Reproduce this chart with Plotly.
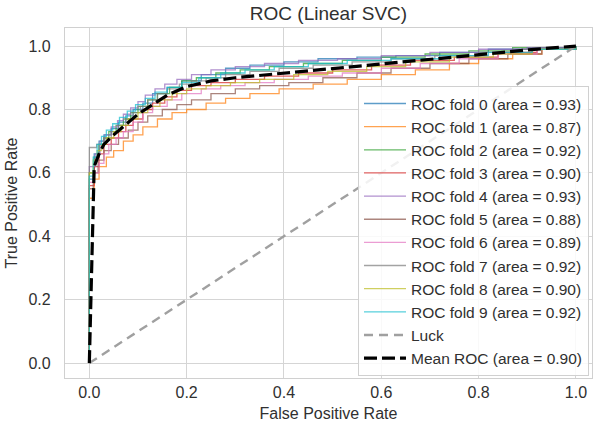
import plotly.graph_objects as go

# ---- data ----
fold_names = [f"ROC fold {i}" for i in range(10)]
fold_auc = [0.93, 0.87, 0.92, 0.90, 0.93, 0.88, 0.89, 0.92, 0.90, 0.92]

fpr_0 = [0, 0, 0.01, 0.02, 0.03, 0.045, 0.06, 0.075, 0.09, 0.11, 0.13, 0.16, 0.19, 0.23, 0.28, 0.33, 0.40, 0.47, 0.55, 0.63, 0.72, 0.82, 0.90, 1.0]
tpr_0 = [0, 0.58, 0.66, 0.70, 0.72, 0.74, 0.76, 0.78, 0.80, 0.82, 0.85, 0.87, 0.89, 0.91, 0.93, 0.94, 0.95, 0.96, 0.965, 0.97, 0.98, 0.99, 0.995, 1.0]

fpr_1 = [0, 0, 0.01, 0.02, 0.035, 0.05, 0.07, 0.09, 0.11, 0.14, 0.17, 0.20, 0.24, 0.28, 0.33, 0.39, 0.46, 0.53, 0.60, 0.67, 0.74, 0.80, 0.87, 0.93, 1.0]
tpr_1 = [0, 0.52, 0.58, 0.62, 0.65, 0.67, 0.70, 0.72, 0.745, 0.77, 0.79, 0.80, 0.82, 0.835, 0.85, 0.865, 0.88, 0.895, 0.91, 0.925, 0.945, 0.96, 0.975, 0.99, 1.0]

fpr_2 = [0, 0, 0.01, 0.02, 0.03, 0.04, 0.055, 0.07, 0.085, 0.10, 0.12, 0.14, 0.165, 0.19, 0.22, 0.26, 0.31, 0.37, 0.44, 0.52, 0.60, 0.69, 0.78, 0.87, 1.0]
tpr_2 = [0, 0.60, 0.65, 0.69, 0.71, 0.73, 0.75, 0.77, 0.79, 0.81, 0.83, 0.85, 0.87, 0.89, 0.90, 0.915, 0.925, 0.935, 0.945, 0.955, 0.965, 0.975, 0.985, 0.995, 1.0]

fpr_3 = [0, 0, 0.01, 0.02, 0.03, 0.045, 0.06, 0.075, 0.09, 0.11, 0.13, 0.155, 0.18, 0.21, 0.25, 0.30, 0.36, 0.43, 0.50, 0.58, 0.66, 0.75, 0.84, 0.92, 1.0]
tpr_3 = [0, 0.56, 0.62, 0.66, 0.69, 0.71, 0.73, 0.75, 0.77, 0.80, 0.82, 0.84, 0.86, 0.875, 0.885, 0.895, 0.905, 0.915, 0.925, 0.94, 0.955, 0.965, 0.98, 0.99, 1.0]

fpr_4 = [0, 0, 0.012, 0.022, 0.032, 0.045, 0.058, 0.07, 0.085, 0.10, 0.115, 0.135, 0.155, 0.18, 0.21, 0.25, 0.30, 0.36, 0.43, 0.51, 0.60, 0.70, 0.80, 0.90, 1.0]
tpr_4 = [0, 0.62, 0.66, 0.70, 0.72, 0.745, 0.765, 0.785, 0.805, 0.825, 0.845, 0.865, 0.88, 0.895, 0.91, 0.925, 0.935, 0.945, 0.955, 0.96, 0.97, 0.98, 0.99, 0.995, 1.0]

fpr_5 = [0, 0, 0.008, 0.018, 0.03, 0.045, 0.06, 0.08, 0.10, 0.12, 0.15, 0.18, 0.21, 0.25, 0.30, 0.35, 0.41, 0.48, 0.55, 0.62, 0.70, 0.78, 0.86, 0.93, 1.0]
tpr_5 = [0, 0.55, 0.60, 0.64, 0.67, 0.69, 0.71, 0.735, 0.76, 0.78, 0.80, 0.815, 0.83, 0.85, 0.865, 0.875, 0.885, 0.90, 0.915, 0.93, 0.945, 0.96, 0.975, 0.99, 1.0]

fpr_6 = [0, 0, 0.01, 0.02, 0.03, 0.04, 0.055, 0.07, 0.09, 0.11, 0.13, 0.16, 0.19, 0.23, 0.27, 0.32, 0.38, 0.45, 0.52, 0.60, 0.68, 0.76, 0.84, 0.92, 1.0]
tpr_6 = [0, 0.57, 0.60, 0.63, 0.66, 0.69, 0.71, 0.73, 0.76, 0.79, 0.81, 0.83, 0.85, 0.865, 0.875, 0.885, 0.895, 0.905, 0.915, 0.93, 0.945, 0.96, 0.975, 0.99, 1.0]

fpr_7 = [0, 0, 0.015, 0.03, 0.045, 0.06, 0.075, 0.09, 0.105, 0.12, 0.14, 0.16, 0.185, 0.21, 0.24, 0.28, 0.33, 0.39, 0.46, 0.54, 0.62, 0.71, 0.80, 0.89, 1.0]
tpr_7 = [0, 0.68, 0.69, 0.71, 0.73, 0.75, 0.77, 0.79, 0.81, 0.83, 0.85, 0.865, 0.88, 0.89, 0.90, 0.91, 0.92, 0.93, 0.94, 0.95, 0.96, 0.97, 0.98, 0.99, 1.0]

fpr_8 = [0, 0, 0.008, 0.016, 0.025, 0.035, 0.05, 0.065, 0.08, 0.10, 0.12, 0.145, 0.17, 0.20, 0.24, 0.29, 0.35, 0.42, 0.49, 0.57, 0.65, 0.74, 0.83, 0.91, 1.0]
tpr_8 = [0, 0.60, 0.64, 0.67, 0.69, 0.71, 0.73, 0.75, 0.77, 0.79, 0.81, 0.83, 0.85, 0.865, 0.875, 0.885, 0.895, 0.91, 0.92, 0.935, 0.95, 0.965, 0.975, 0.99, 1.0]

fpr_9 = [0, 0, 0.008, 0.016, 0.025, 0.035, 0.048, 0.062, 0.078, 0.095, 0.115, 0.135, 0.16, 0.19, 0.225, 0.27, 0.32, 0.38, 0.45, 0.53, 0.62, 0.72, 0.82, 0.91, 1.0]
tpr_9 = [0, 0.59, 0.65, 0.69, 0.715, 0.735, 0.755, 0.775, 0.795, 0.815, 0.835, 0.855, 0.87, 0.885, 0.90, 0.915, 0.925, 0.935, 0.945, 0.955, 0.96, 0.97, 0.98, 0.99, 1.0]

mean_fpr = [0, 0.01, 0.02, 0.03, 0.05, 0.07, 0.10, 0.13, 0.16, 0.20, 0.25, 0.30, 0.35, 0.40, 0.45, 0.50, 0.55, 0.60, 0.65, 0.70, 0.75, 0.80, 0.85, 0.90, 0.95, 1.0]
mean_tpr = [0, 0.62, 0.66, 0.69, 0.72, 0.745, 0.785, 0.815, 0.845, 0.872, 0.89, 0.90, 0.908, 0.915, 0.922, 0.929, 0.936, 0.943, 0.95, 0.957, 0.965, 0.973, 0.98, 0.988, 0.995, 1.0]
mean_auc = 0.90

luck_x = [0, 1]
luck_y = [0, 1]

fold_fpr = [fpr_0, fpr_1, fpr_2, fpr_3, fpr_4, fpr_5, fpr_6, fpr_7, fpr_8, fpr_9]
fold_tpr = [tpr_0, tpr_1, tpr_2, tpr_3, tpr_4, tpr_5, tpr_6, tpr_7, tpr_8, tpr_9]

colors = ["#1f77b4", "#ff7f0e", "#2ca02c", "#d62728", "#9467bd",
          "#8c564b", "#e377c2", "#7f7f7f", "#bcbd22", "#17becf"]

FONT = "Liberation Sans, Arial, sans-serif"
TXT = "#303030"

fig = go.Figure()
for i in range(10):
    fig.add_trace(go.Scatter(
        x=fold_fpr[i], y=fold_tpr[i], mode="lines", line_shape="hv",
        line=dict(color=colors[i], width=1.3), opacity=0.72,
        name=f"{fold_names[i]} (area = {fold_auc[i]:.2f})"))

fig.add_trace(go.Scatter(
    x=luck_x, y=luck_y, mode="lines",
    line=dict(color="#a0a0a0", width=2.4, dash="9px,6px"), name="Luck"))

fig.add_trace(go.Scatter(
    x=mean_fpr, y=mean_tpr, mode="lines",
    line=dict(color="black", width=3.2, dash="13px,5px"),
    name=f"Mean ROC (area = {mean_auc:.2f})"))

axis_common = dict(
    showgrid=True, gridcolor="#d5d5d5", gridwidth=1.2,
    zeroline=False, showline=True, linecolor="#d0d0d0", linewidth=1.2,
    mirror=True, ticks="", tickfont=dict(size=16, color=TXT, family=FONT),
    tickformat=".1f", dtick=0.2, tick0=0,
)

fig.update_layout(
    width=600, height=429,
    margin=dict(l=65, r=8, t=28, b=51),
    paper_bgcolor="white", plot_bgcolor="white",
    font=dict(family=FONT, color=TXT),
    title=dict(text="ROC (Linear SVC)", x=0.5, xref="paper", xanchor="center",
               y=1, yref="paper", yanchor="bottom", pad=dict(b=8),
               font=dict(size=19, color=TXT, family=FONT)),
    xaxis=dict(range=[-0.05, 1.033], title=dict(text="False Positive Rate",
               font=dict(size=16, color=TXT), standoff=7),
               ticklabelstandoff=0, **axis_common),
    yaxis=dict(range=[-0.047, 1.057], title=dict(text="True Positive Rate",
               font=dict(size=16, color=TXT), standoff=6),
               ticklabelstandoff=10, **axis_common),
    legend=dict(x=0.9943, xanchor="right", y=0.006, yanchor="bottom",
                bgcolor="rgba(255,255,255,0.85)", bordercolor="#d0d0d0",
                borderwidth=1, font=dict(size=15.5, color=TXT, family=FONT),
                itemwidth=42, tracegroupgap=0),
    showlegend=True,
)

fig.write_html("out.html")
